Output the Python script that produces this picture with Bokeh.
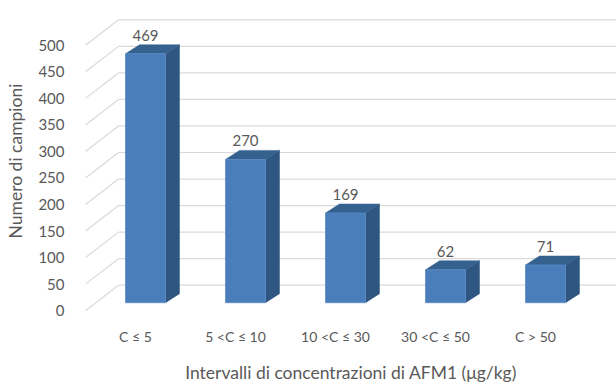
from bokeh.plotting import figure
from bokeh.models import Range1d, FixedTicker
from bokeh.embed import file_html
from bokeh.resources import INLINE
from bokeh.core.properties import value

# Data
categories = ["C \u2264 5", "5 <C \u2264 10", "10 <C \u2264 30", "30 <C \u2264 50", "C > 50"]
counts = [469, 270, 169, 62, 71]
y_ticks = [0, 50, 100, 150, 200, 250, 300, 350, 400, 450, 500]

FONT = "Lato"
TEXT = "#595959"
GRID = "#d9d9d9"
FRONT = "#4a7ebb"
TOP = "#35618f"
SIDE = "#2e5680"

# pseudo-3D geometry (in data units)
half_w = 0.20          # half width of bar front face
bar_dx, bar_dy = 0.10, 15.0      # bar plane offset from the front plane
depth_dx, depth_dy = 0.14, 17.0  # bar depth
wall_dx, wall_dy = 0.33, 48.0    # back wall offset

p = figure(width=616, height=385, output_backend="svg", toolbar_location=None,
           x_range=Range1d(-0.5, 4.81), y_range=Range1d(-11, 575),
           min_border_left=85, min_border_right=0, min_border_top=5,
           min_border_bottom=60)
p.outline_line_color = None
p.background_fill_color = "white"
p.border_fill_color = "white"
p.xgrid.visible = False
p.ygrid.visible = False

# back wall gridlines and side-wall slants
x0 = -0.5
for t in y_ticks:
    p.line([x0, x0 + wall_dx], [t, t + wall_dy], line_color=GRID, line_width=1.2)
    p.line([x0 + wall_dx, 4.81], [t + wall_dy, t + wall_dy], line_color=GRID, line_width=1.2)

# bars
for i, v in enumerate(counts):
    cx = i + bar_dx
    b = bar_dy
    xl, xr = cx - half_w, cx + half_w
    top_y = b + v
    # side face
    p.patch([xr, xr + depth_dx, xr + depth_dx, xr],
            [b, b + depth_dy, top_y + depth_dy, top_y],
            fill_color=SIDE, line_color=SIDE, line_width=0.5)
    # top face
    p.patch([xl, xr, xr + depth_dx, xl + depth_dx],
            [top_y, top_y, top_y + depth_dy, top_y + depth_dy],
            fill_color=TOP, line_color=TOP, line_width=0.5)
    # front face
    p.patch([xl, xr, xr, xl], [b, b, top_y, top_y],
            fill_color=FRONT, line_color="#5a8ac6", line_width=0.8)

# value labels
p.text(x=[i + bar_dx for i in range(len(counts))],
       y=[bar_dy + v for v in counts],
       text=[str(v) for v in counts],
       text_align="center", text_baseline="bottom", y_offset=-13,
       text_font=value(FONT), text_font_size="15px", text_color=TEXT)

# axes
p.yaxis.ticker = FixedTicker(ticks=y_ticks)
p.yaxis.axis_line_color = None
p.yaxis.major_tick_line_color = None
p.yaxis.minor_tick_line_color = None
p.yaxis.major_label_standoff = 15
p.yaxis.major_label_text_font = FONT
p.yaxis.major_label_text_font_size = "15px"
p.yaxis.major_label_text_color = TEXT
p.yaxis.axis_label = "Numero di campioni"
p.yaxis.axis_label_text_font = FONT
p.yaxis.axis_label_text_font_size = "17.5px"
p.yaxis.axis_label_text_font_style = "normal"
p.yaxis.axis_label_text_color = TEXT
p.yaxis.axis_label_standoff = 9

p.xaxis.ticker = FixedTicker(ticks=list(range(len(categories))))
p.xaxis.major_label_overrides = {i: c for i, c in enumerate(categories)}
p.xaxis.axis_line_color = None
p.xaxis.major_tick_line_color = None
p.xaxis.minor_tick_line_color = None
p.xaxis.major_label_standoff = 5
p.xaxis.major_label_text_font = FONT
p.xaxis.major_label_text_font_size = "14px"
p.xaxis.major_label_text_color = TEXT
p.xaxis.axis_label = "Intervalli di concentrazioni di AFM1 (\u03bcg/kg)"
p.xaxis.axis_label_text_font = FONT
p.xaxis.axis_label_text_font_size = "17.5px"
p.xaxis.axis_label_text_font_style = "normal"
p.xaxis.axis_label_text_color = TEXT
p.xaxis.axis_label_standoff = 14

open("out.html", "w").write(file_html(p, INLINE))
